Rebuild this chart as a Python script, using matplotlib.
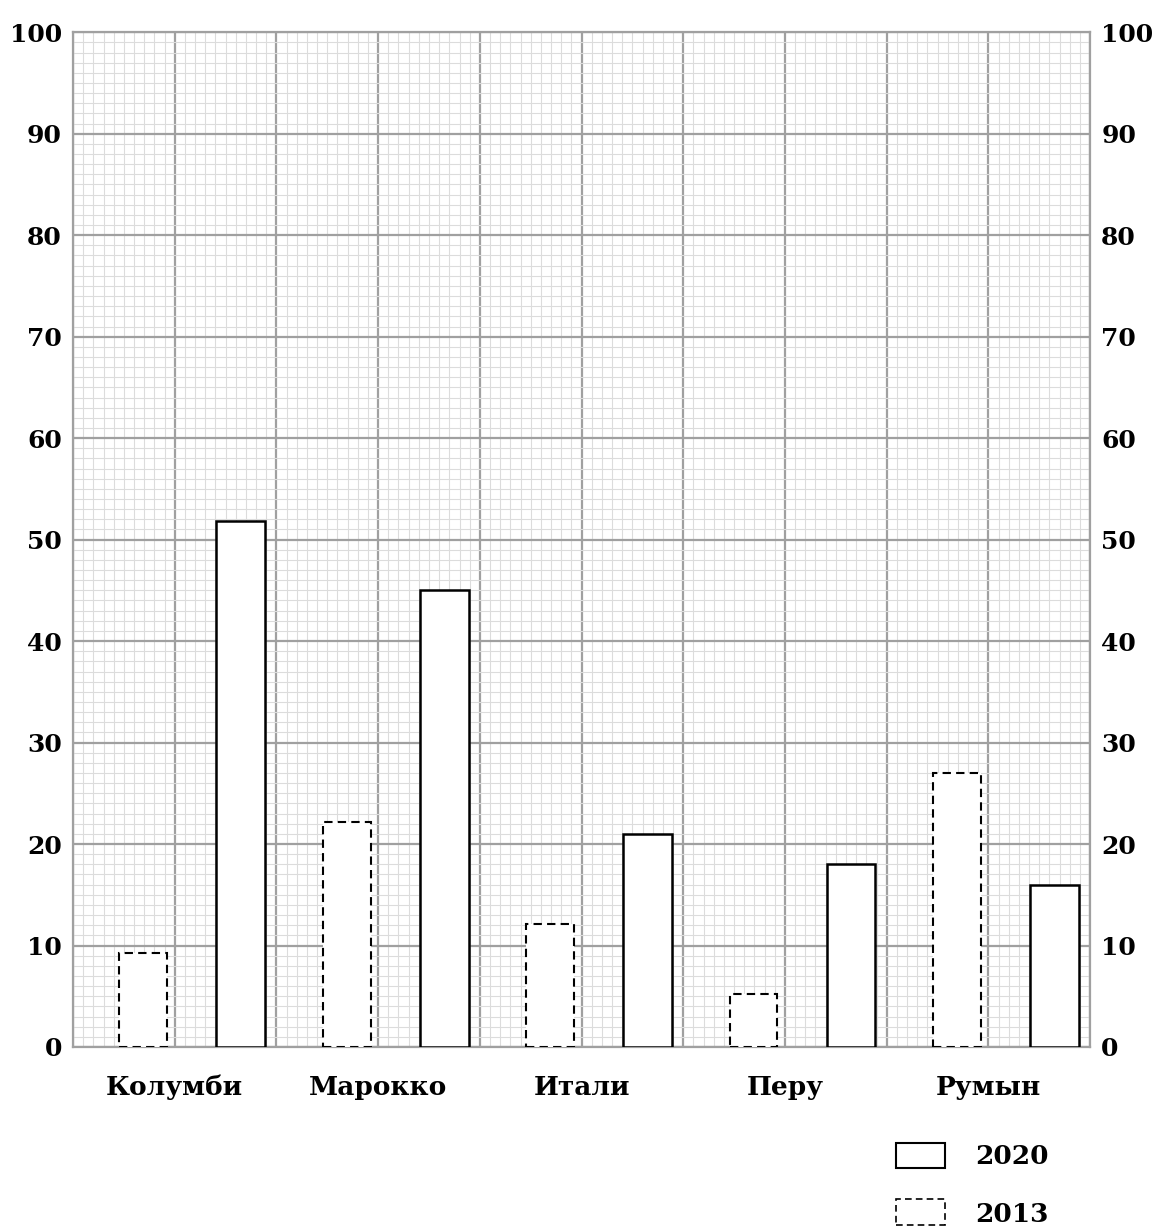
import matplotlib.pyplot as plt
from matplotlib.patches import Rectangle
from matplotlib.ticker import MultipleLocator

# данные с диаграммы
countries = ["Колумби", "Марокко", "Итали", "Перу", "Румын"]
values_2013 = [9.3, 22.2, 12.1, 5.2, 27.0]
values_2020 = [51.8, 45.0, 21.0, 18.0, 16.0]
y_ticks = [0, 10, 20, 30, 40, 50, 60, 70, 80, 90, 100]

plt.rcParams['font.family'] = ['DejaVu Serif']

fig = plt.figure(figsize=(11.65, 12.3), dpi=100)
ax = fig.add_axes([0.0627, 0.1488, 0.873, 0.825])

centers = [2 * i + 1 for i in range(len(countries))]
x13 = [c - 0.31 for c in centers]
x20 = [c + 0.65 for c in centers]

ax.bar(x13, values_2013, width=0.47, facecolor='white', edgecolor='black',
       linewidth=1.5, linestyle=(0, (4, 2.5)), zorder=3)
ax.bar(x20, values_2020, width=0.48, facecolor='white', edgecolor='black',
       linewidth=1.8, zorder=3)

ax.set_xlim(0, 10)
ax.set_ylim(0, 100)

# миллиметровка
ax.xaxis.set_minor_locator(MultipleLocator(0.1))
ax.yaxis.set_minor_locator(MultipleLocator(1))
ax.set_xticks(range(11))
labels = [""] * 11
for c, name in zip(centers, countries):
    labels[c] = name
ax.set_xticklabels(labels, fontsize=19, fontweight='bold')
ax.set_yticks(y_ticks)
ax.set_yticklabels([str(v) for v in y_ticks], fontsize=18, fontweight='bold')
ax.grid(which='minor', color='#dcdcdc', linewidth=0.8, zorder=0)
ax.grid(which='major', color='#a0a0a0', linewidth=1.6, zorder=1)
ax.set_axisbelow(True)
ax.tick_params(which='both', length=0)
ax.tick_params(axis='y', labelright=True, pad=8)
ax.tick_params(axis='x', pad=20)
for s in ax.spines.values():
    s.set_color('#a0a0a0')
    s.set_linewidth(1.6)

# легенда
fig.add_artist(Rectangle((896 / 1165, 1 - 1168 / 1230), 49 / 1165, 25 / 1230,
                         transform=fig.transFigure, facecolor='white',
                         edgecolor='black', linewidth=1.5))
fig.add_artist(Rectangle((896 / 1165, 1 - 1225 / 1230), 49 / 1165, 26 / 1230,
                         transform=fig.transFigure, facecolor='white',
                         edgecolor='black', linewidth=1.2, linestyle=(0, (4, 2.5))))
fig.text(975 / 1165, 1 - 1156 / 1230, "2020", fontsize=19, fontweight='bold', va='center')
fig.text(975 / 1165, 1 - 1214 / 1230, "2013", fontsize=19, fontweight='bold', va='center')

plt.savefig("out.png", dpi=100)
